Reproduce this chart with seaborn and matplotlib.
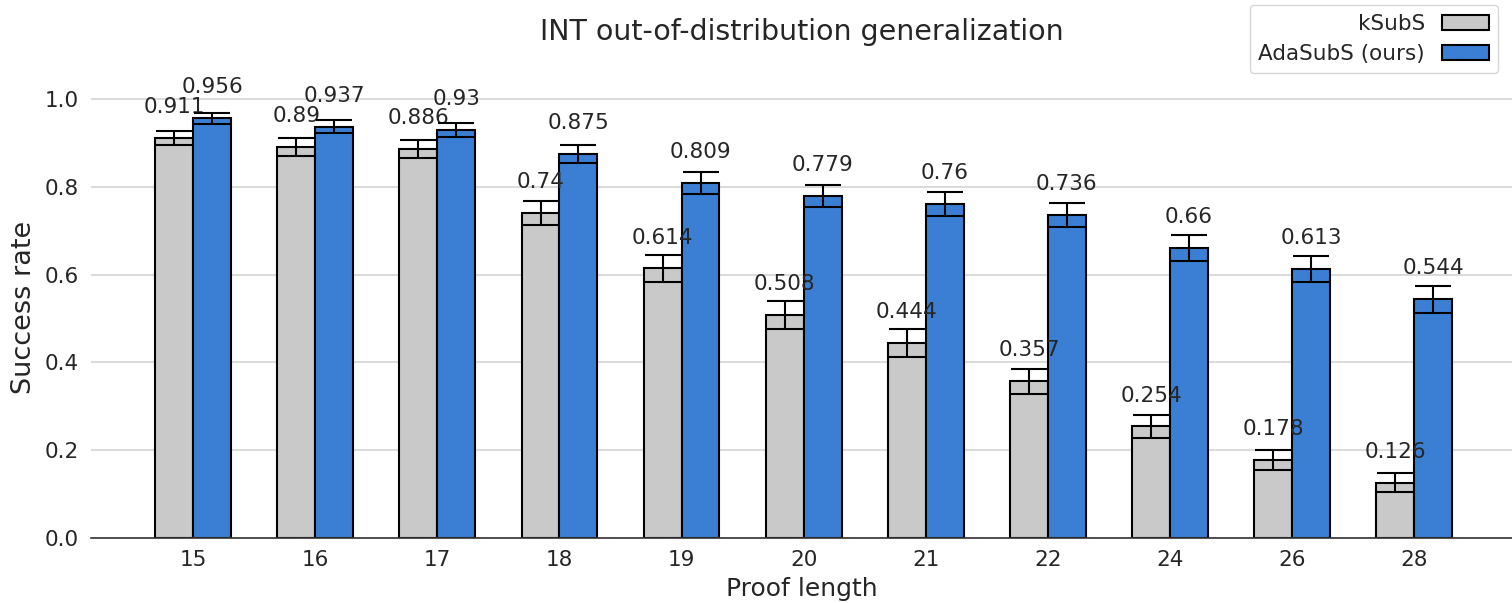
import matplotlib
matplotlib.use("Agg")
import matplotlib.pyplot as plt
import seaborn as sns
import pandas as pd

# ---- data ----
proof_lengths = ["15", "16", "17", "18", "19", "20", "21", "22", "24", "26", "28"]
ksubs = [0.911, 0.89, 0.886, 0.74, 0.614, 0.508, 0.444, 0.357, 0.254, 0.178, 0.126]
ksubs_err = [0.017, 0.020, 0.020, 0.028, 0.031, 0.031, 0.031, 0.029, 0.027, 0.023, 0.021]
adasubs = [0.956, 0.937, 0.93, 0.875, 0.809, 0.779, 0.76, 0.736, 0.66, 0.613, 0.544]
adasubs_err = [0.013, 0.014, 0.016, 0.021, 0.025, 0.026, 0.027, 0.027, 0.030, 0.030, 0.031]
methods = ["kSubS", "AdaSubS (ours)"]
colors = ["#c9c9c9", "#3b7fd4"]

df = pd.DataFrame({
    "Proof length": proof_lengths * 2,
    "Success rate": ksubs + adasubs,
    "method": [methods[0]] * len(ksubs) + [methods[1]] * len(adasubs),
})

sns.set_style("whitegrid")
plt.rcParams["font.family"] = ["DejaVu Sans"]
plt.rcParams["text.color"] = "#262626"

fig = plt.figure(figsize=(15.12, 6.03), dpi=100)
ax = fig.add_axes([91 / 1512, 65 / 603, 1 - 91 / 1512, 461 / 603])

sns.barplot(data=df, x="Proof length", y="Success rate", hue="method",
            palette=colors, saturation=1, width=0.62, edgecolor="black", linewidth=1.5,
            errorbar=None, ax=ax, order=proof_lengths, hue_order=methods)

errs = [ksubs_err, adasubs_err]
vals = [ksubs, adasubs]
for cont, err, v in zip(ax.containers, errs, vals):
    xs = [p.get_x() + p.get_width() / 2 for p in cont.patches]
    hs = [p.get_height() for p in cont.patches]
    ax.errorbar(xs, hs, yerr=err, fmt="none", ecolor="black",
                elinewidth=1.5, capsize=13, capthick=1.5, zorder=5)
    ax.bar_label(cont, labels=[f"{x:g}" for x in v], padding=15,
                 fontsize=15.5, color="#262626")

ax.set_ylim(0, 1.05)
ax.set_xlim(-0.836, 10.8)
ax.set_yticks([0.0, 0.2, 0.4, 0.6, 0.8, 1.0])
ax.set_yticklabels(["0.0", "0.2", "0.4", "0.6", "0.8", "1.0"])
ax.grid(axis="x", visible=False)
ax.grid(axis="y", color="#d4d4d4", linewidth=1.2)
ax.set_axisbelow(True)
for s in ["left", "top", "right"]:
    ax.spines[s].set_visible(False)
ax.spines["bottom"].set_color("#333333")
ax.spines["bottom"].set_linewidth(1.2)
ax.tick_params(axis="y", length=4.5, width=1, color="#333333", labelsize=15.5,
               labelcolor="#262626", pad=4)
ax.tick_params(axis="x", length=3.5, width=1, color="#333333", labelsize=15.5,
               labelcolor="#262626", pad=5)
ax.set_xlabel("Proof length", fontsize=18, color="#262626", labelpad=5)
ax.set_ylabel("Success rate", fontsize=19.5, color="#262626", labelpad=6)
ax.set_title("INT out-of-distribution generalization", fontsize=20.5,
             color="#262626", pad=27)

handles, labels = ax.get_legend_handles_labels()
if ax.get_legend() is not None:
    ax.get_legend().remove()
ax.legend(handles, labels, loc="upper right", bbox_to_anchor=(1498 / 1512, 1 - 5 / 603),
          bbox_transform=fig.transFigure, borderaxespad=0, markerfirst=False,
          fontsize=15.5, handlelength=2.2, frameon=True)

fig.savefig("out.png", dpi=100)
